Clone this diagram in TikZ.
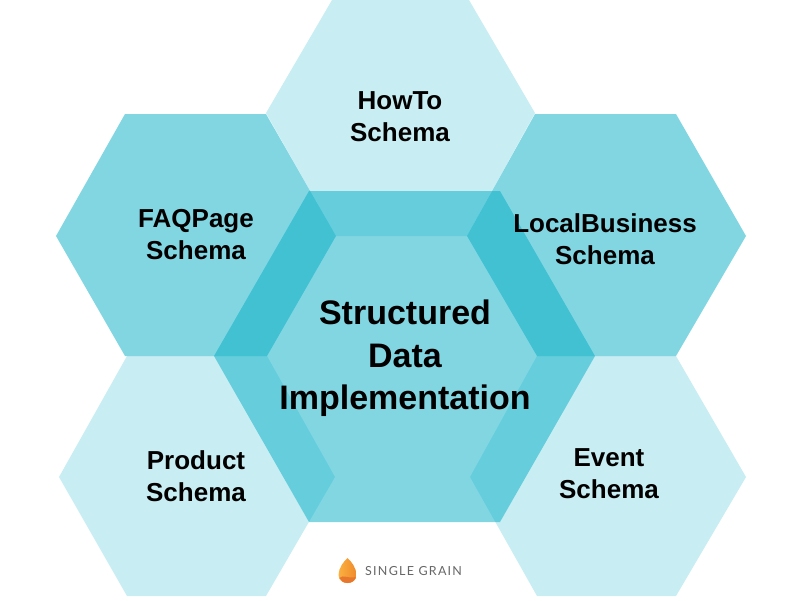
\documentclass[tikz,border=0pt]{standalone}
\usepackage{fontspec}
\setmainfont{Liberation Sans}
\newfontfamily\logofont[LetterSpace=10]{Lato}
\definecolor{hexbase}{HTML}{00ACC4}
\definecolor{logotext}{HTML}{666666}
\definecolor{dropa}{HTML}{FBB040}
\definecolor{dropb}{HTML}{EF8A2C}
\definecolor{dropc}{HTML}{E8772E}
\tikzset{
  hexlight/.style={fill=hexbase,fill opacity=.215,draw=none},
  hexmid/.style={fill=hexbase,fill opacity=.49,draw=none},
  small label/.style={align=center,font=\bfseries\fontsize{26}{32}\selectfont,text=black,inner sep=0pt},
  big label/.style={align=center,font=\bfseries\fontsize{34}{42.5}\selectfont,text=black,inner sep=0pt},
}
\begin{document}
\begin{tikzpicture}[x=1pt,y=-1pt]
\useasboundingbox (0,0) rectangle (800,600);
\clip (0,0) rectangle (800,600);
% hexagons
\fill[hexlight] (266,113) -- (332,0) -- (469,0) -- (535,113) -- (467,236) -- (336,236) -- cycle;
\fill[hexmid] (56,236) -- (125,114) -- (266,114) -- (336,236) -- (267,356) -- (125,356) -- cycle;
\fill[hexmid] (467,236) -- (535,114) -- (676,114) -- (746,236) -- (676,356) -- (537,356) -- cycle;
\fill[hexlight] (59,477) -- (127,356) -- (267,356) -- (335,477) -- (266,596) -- (127,596) -- cycle;
\fill[hexlight] (470,477) -- (537,356) -- (676,356) -- (746,477) -- (676,596) -- (537,596) -- cycle;
\fill[hexmid] (214,356) -- (309,191) -- (500,191) -- (595,356) -- (500,522) -- (309,522) -- cycle;
% labels
\node[small label] (howto) at (400,117) {HowTo\\Schema};
\node[small label] (faq) at (196,235) {FAQPage\\Schema};
\node[small label] (local) at (605,239) {LocalBusiness\\Schema};
\node[small label] (product) at (196,476) {Product\\Schema};
\node[small label] (event) at (609,474) {Event\\Schema};
\node[big label] (center) at (405,358.5) {Structured\\Data\\Implementation};
% logo
\path[left color=dropa,right color=dropb,draw=none]
  (347.5,558) .. controls (351,561) and (356.5,568) .. (356.5,575) .. controls (356.5,580) and (352.5,583) .. (347.5,583)
  .. controls (342.5,583) and (338.5,580) .. (338.5,575) .. controls (338.5,568) and (344,561) .. (347.5,558) -- cycle;
\fill[dropc] (339.5,578) .. controls (343,574) and (348,579) .. (355.7,577)
  .. controls (354.5,581) and (351.5,583) .. (347.5,583) .. controls (343.5,583) and (341,581) .. (339.5,578) -- cycle;
\node[anchor=west,inner sep=0pt,text=logotext,font=\logofont\fontsize{12.5}{14}\selectfont] (logo) at (365,571.5) {SINGLE GRAIN};
\end{tikzpicture}
\end{document}
